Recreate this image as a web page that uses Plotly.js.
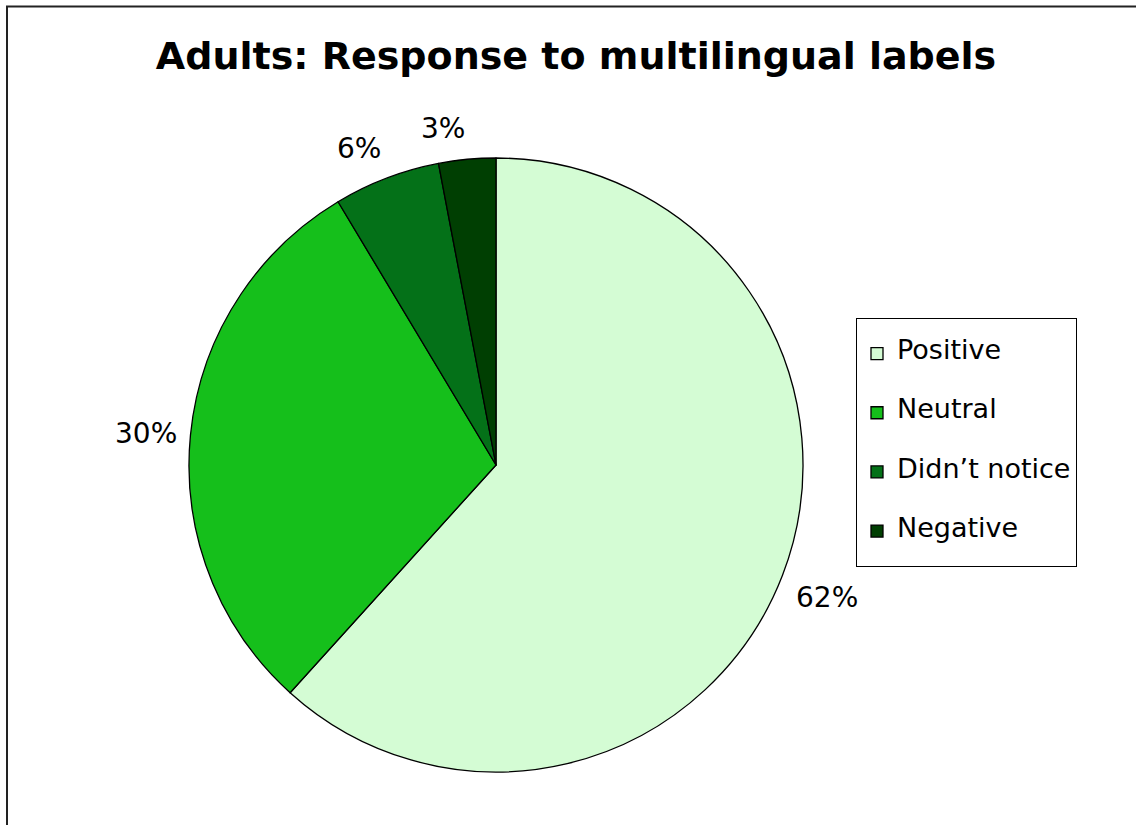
<!DOCTYPE html>
<html>
<head>
<meta charset="utf-8">
<script src="https://cdn.plot.ly/plotly-3.0.1.min.js"></script>
<style>html,body{margin:0;padding:0;background:#fff;overflow:hidden;}</style>
</head>
<body>
<div id="chart" style="width:1136px;height:825px;"></div>
<script>
const categories = ["Positive", "Neutral", "Didn\u2019t notice", "Negative"];
const shares = [61.7, 29.7, 5.6, 3.0];
const sliceColors = ["#d4fcd4", "#15bf1b", "#047118", "#003f02"];

const W = 1136, H = 825;
const cx = 496, cy = 465, R = 307;
const labelDist = 320;

const total = shares.reduce((a, b) => a + b, 0);

const trace = {
  type: "pie",
  labels: categories.map(c => "<span style='font-size:1px'>&nbsp;</span><br><span style='font-size:27px'>" + c + "</span><br><span style='font-size:1px'>&nbsp;</span>"),
  values: shares,
  sort: false,
  direction: "clockwise",
  rotation: 0,
  marker: { colors: sliceColors, line: { color: "#000", width: 1.3 } },
  textinfo: "none",
  hoverinfo: "percent",
  domain: { x: [(cx - R) / W, (cx + R) / W], y: [1 - (cy + R) / H, 1 - (cy - R) / H] },
  automargin: false
};

// percentage labels placed outside each slice along its mid-angle (Excel style)
const annotations = [];
let cum = 0;
shares.forEach((v, i) => {
  const mid = (cum + v / 2) / total * 2 * Math.PI;
  cum += v;
  const s = Math.sin(mid), c = Math.cos(mid);
  const px = cx + labelDist * s, py = cy - labelDist * c;
  annotations.push({
    xref: "paper", yref: "paper",
    x: px / W, y: 1 - py / H,
    text: Math.round(v / total * 100) + "%",
    showarrow: false,
    xanchor: s < 0 ? "right" : "left",
    yanchor: c > 0.3 ? "bottom" : (c < -0.3 ? "top" : "middle"),
    borderpad: 0,
    font: { family: "DejaVu Sans", size: 28, color: "#000" }
  });
});

const layout = {
  width: W, height: H,
  margin: { l: 0, r: 0, t: 0, b: 0 },
  paper_bgcolor: "#fff",
  font: { family: "DejaVu Sans", color: "#000" },
  title: {
    text: "<b>Adults: Response to multilingual labels</b>",
    font: { family: "DejaVu Sans", size: 38, color: "#000" },
    x: 576 / W, xanchor: "center", y: 1 - 56 / H, yanchor: "middle"
  },
  showlegend: true,
  legend: {
    x: 856 / W, xanchor: "left", y: 1 - 318 / H, yanchor: "top",
    bgcolor: "#fff", bordercolor: "#000", borderwidth: 1,
    font: { family: "DejaVu Sans", size: 14.4, color: "#000" },
    traceorder: "normal", valign: "middle"
  },
  annotations: annotations,
  shapes: [{
    type: "rect", xref: "paper", yref: "paper",
    x0: 7 / W, x1: 1.02, y0: -0.02, y1: 1 - 6.5 / H,
    line: { color: "#222", width: 2 }, fillcolor: "rgba(0,0,0,0)", layer: "below"
  }]
};

Plotly.newPlot("chart", [trace], layout, { displayModeBar: false, staticPlot: true });
</script>
</body>
</html>
